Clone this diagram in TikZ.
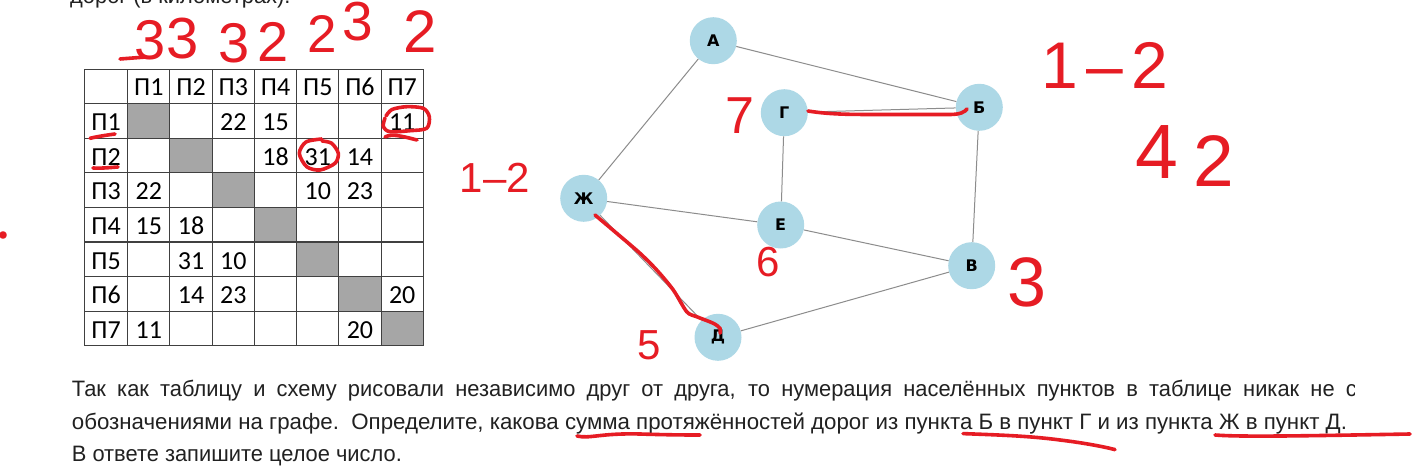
\documentclass[tikz,border=0pt]{standalone}
\usepackage{fontspec}
\setmainfont{Liberation Sans}
\newfontfamily\tabfont{Carlito}
\newfontfamily\gfont{DejaVu Sans}
\newfontfamily\handfont{Liberation Sans}
\usepackage{graphicx}
\definecolor{hand}{RGB}{230,28,36}
\definecolor{nodeblue}{RGB}{173,216,230}
\definecolor{edgegray}{RGB}{140,140,140}
\definecolor{cellgray}{RGB}{166,166,166}
\definecolor{bodytext}{RGB}{33,33,33}
\newlength\lthree
\newlength\ltwo
\newcommand\bodyfs{\fontsize{22.3}{26}\selectfont}
\newcommand\linetwo{обозначениями на графе.\ \ Определите, какова сумма протяжённостей дорог из пункта Б в пункт Г и из пункта Ж в пункт Д.}
\begin{document}
\settowidth\lthree{\bodyfs В ответе запишите целое число.}%
\settowidth\ltwo{\bodyfs\linetwo}%
\pgfmathsetmacro\sx{330/\lthree}%
\pgfmathsetmacro\sxtwo{1275/\ltwo}%
\pgfmathsetmacro\wone{1285/\sx}%
\begin{tikzpicture}[x=1pt,y=-1pt,
  body/.style={anchor=base west,inner sep=0,text=bodytext},
  tab/.style={anchor=base,inner sep=0,font=\tabfont\fontsize{26}{28}\selectfont},
  gridline/.style={draw=black!75,line width=1.1},
  gnode/.style={circle,fill=nodeblue,minimum size=47,inner sep=0,font=\gfont\bfseries\fontsize{16}{16}\selectfont},
  edge/.style={draw=edgegray,line width=1},
  hand/.style={draw=hand,line width=3.6,line cap=round,line join=round},
  handtxt/.style={text=hand,inner sep=0,anchor=center}]
\useasboundingbox (0,0) rectangle (1412,470);
\fill[white] (0,0) rectangle (1412,470);
% ---------- text ----------
\begin{scope}
\clip (0,0) rectangle (1412,470);
\node[body] (t0) at (70,4) {\scalebox{\sx}[1]{\bodyfs дорог (в километрах).}};
\end{scope}
\begin{scope}
\clip (0,360) rectangle (1354,410);
\node[body] (t1) at (71.7,396) {\scalebox{\sx}[1]{\makebox[\wone pt][s]{\bodyfs Так как таблицу и схему рисовали независимо друг от друга, то нумерация населённых пунктов в таблице никак не с}}};
\end{scope}
\node[body] (t2) at (71.7,429.3) {\scalebox{\sxtwo}[1]{\bodyfs\linetwo}};
\node[body] (t3) at (71.7,461.7) {\scalebox{\sx}[1]{\bodyfs В ответе запишите целое число.}};
% ---------- table ----------
\foreach \i in {1,...,7}
  \fill[cellgray] (127.7+\i*42.23-42.23, 69.3+\i*34.55) rectangle ++(42.23,34.55);
\foreach \k in {0,...,8}
  \draw[gridline] (84.3,69.3+\k*34.55) -- (423.3,69.3+\k*34.55);
\draw[gridline] (84.3,69.3) -- (84.3,345.7);
\foreach \k in {0,...,7}
  \draw[gridline] (127.7+\k*42.23,69.3) -- (127.7+\k*42.23,345.7);
\foreach \i in {1,...,7} {
  \node[tab] (h\i) at (127.7+\i*42.23-21.1, 96) {П\i};
  \node[tab] (r\i) at (106, 69.3+\i*34.55+17.3+9.7) {П\i};
}
\foreach \r/\c/\v in {1/3/22,1/4/15,1/7/11,2/4/18,2/5/31,2/6/14,3/1/22,3/5/10,3/6/23,
  4/1/15,4/2/18,5/2/31,5/3/10,6/2/14,6/3/23,6/7/20,7/1/11,7/6/20}
  \node[tab] (v\r\c) at (127.7+\c*42.23-21.1, 69.3+\r*34.55+17.3+9.7) {\v};
% ---------- graph ----------
\node[gnode] (A) at (713.3,40.7) {А};
\node[gnode] (B) at (979.3,107.3) {Б};
\node[gnode] (G) at (784.3,112.7) {Г};
\node[gnode] (Zh) at (583.7,198.3) {Ж};
\node[gnode] (E) at (780.7,225) {Е};
\node[gnode] (V) at (971.7,265.7) {В};
\node[gnode] (D) at (718,337.3) {Д};
\draw[edge] (A) -- (B);
\draw[edge] (A) -- (Zh);
\draw[edge] (G) -- (B);
\draw[edge] (G) -- (E);
\draw[edge] (Zh) -- (E);
\draw[edge] (Zh) -- (D);
\draw[edge] (E) -- (V);
\draw[edge] (B) -- (V);
\draw[edge] (V) -- (D);
% ---------- handwritten annotations ----------
\draw[hand] (808,111) .. controls (830,114.5) and (850,114.5) .. (880,114.5) -- (950,114.5) .. controls (960,114.5) and (965,112) .. (967,109);
\draw[hand] plot[smooth] coordinates {(595,215) (616.7,233.3) (640,253.3) (656.7,270) (673.3,290) (686.7,311.7) (696.7,316.7) (713.3,323.3) (720,328.3) (720,333.3)};
\draw[hand] plot[smooth] coordinates {(386,116) (392,109.5) (406.7,106.7) (423.3,108.3) (429.3,116.7) (426.7,128.3) (410,130.7) (390,131.7) (383.3,126.7) (385,118)};
\draw[hand] (385,137) .. controls (392,133) and (405,137) .. (417,140);
\draw[hand] plot[smooth] coordinates {(321.7,139) (306,142) (299.3,153.3) (306.7,166.7) (320,170) (335,163.3) (338.3,153.3) (331.7,143.3) (322,141)};
\draw[hand] (90,138.3) .. controls (100,136) and (108,135) .. (115,134);
\draw[hand] (93,168) .. controls (102,168.5) and (110,167.5) .. (118,167);
\draw[hand] (120,59) -- (146,57);
\fill[hand] (3,235) circle (2);
\draw[hand] (577,436) .. controls (590,439) and (600,433) .. (640,434) .. controls (670,435) and (690,435) .. (700,435);
\draw[hand] (963,433.6) .. controls (1000,435) and (1030,436) .. (1060,440) .. controls (1085,443) and (1105,447) .. (1115,449.6);
\draw[hand] (1215,435) .. controls (1240,437) and (1300,436) .. (1410,434);
\node[handtxt,font=\handfont\fontsize{56}{60}\selectfont] (n1) at (150,40) {3};
\node[handtxt,font=\handfont\fontsize{58}{60}\selectfont] (n2) at (183,39) {3};
\node[handtxt,font=\handfont\fontsize{56}{60}\selectfont] (n3) at (234,43) {3};
\node[handtxt,font=\handfont\fontsize{56}{60}\selectfont] (n4) at (273,42) {2};
\node[handtxt,font=\handfont\fontsize{53}{60}\selectfont] (n5) at (322,34) {2};
\node[handtxt,font=\handfont\fontsize{55}{60}\selectfont] (n6) at (358,22) {3};
\node[handtxt,font=\handfont\fontsize{60}{60}\selectfont] (n7) at (420,32) {2};
\node[handtxt,font=\handfont\fontsize{66}{70}\selectfont] (r12) at (1105,65) {1\hspace{8pt}–\hspace{8pt}2};
\node[handtxt,font=\handfont\fontsize{77}{80}\selectfont] (r4) at (1157,152) {4};
\node[handtxt,font=\handfont\fontsize{73}{80}\selectfont] (r2) at (1214,161) {2};
\node[handtxt,font=\handfont\fontsize{42}{45}\selectfont] (l12) at (495,178) {1–2};
\node[handtxt,font=\handfont\fontsize{52}{55}\selectfont] (s7) at (740,116) {7};
\node[handtxt,font=\handfont\fontsize{42}{45}\selectfont] (s6) at (768,262) {6};
\node[handtxt,font=\handfont\fontsize{70}{75}\selectfont] (s3) at (1027,282) {3};
\node[handtxt,font=\handfont\fontsize{42}{45}\selectfont] (s5) at (649,345) {5};
\end{tikzpicture}
\end{document}
